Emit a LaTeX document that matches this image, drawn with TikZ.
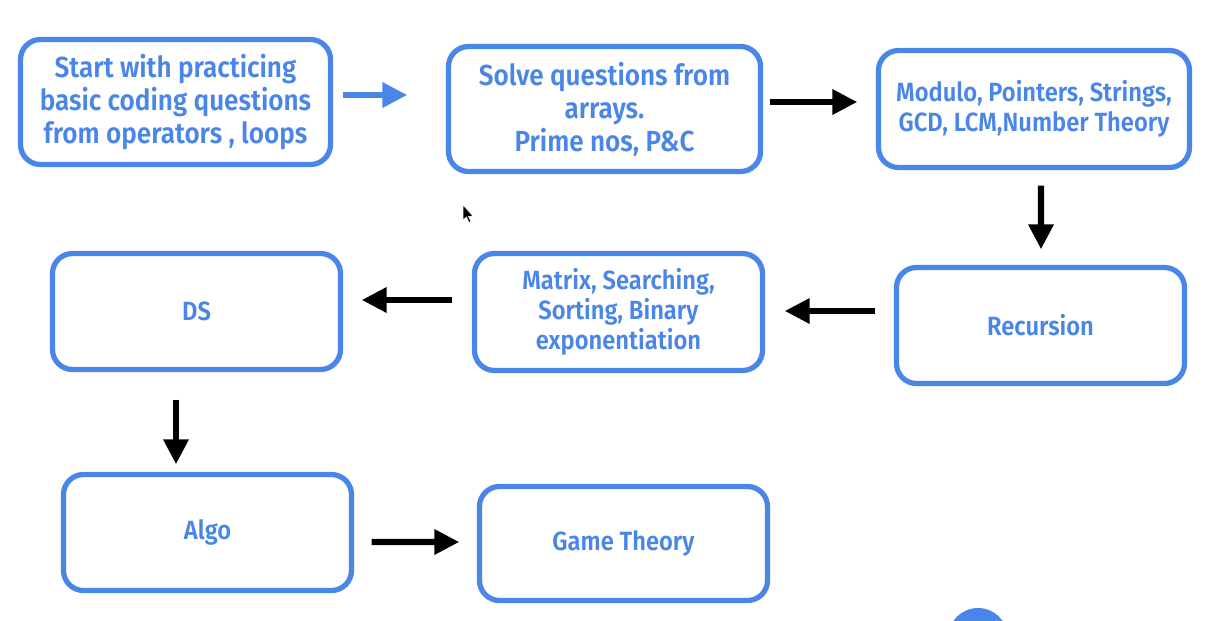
\documentclass[tikz,border=0pt]{standalone}
\usepackage{fontspec}
\setmainfont{Fira Sans}[FakeStretch=0.9, BoldFont={Fira Sans SemiBold}]
\usetikzlibrary{arrows.meta}
\definecolor{boxblue}{HTML}{4A86E8}

\tikzset{
  box/.style={draw=boxblue, line width=3pt, rounded corners=0.4cm,
    text=boxblue, align=center, inner sep=0pt, font=\bfseries},
  bigtxt/.style={font=\fontsize{16.5}{18.8}\selectfont\bfseries},
  smalltxt/.style={font=\fontsize{15}{17}\selectfont\bfseries},
  arr/.style={line width=3.6pt, -{Triangle[length=0.5cm,width=0.48cm]}},
}

\begin{document}
\begin{tikzpicture}

\useasboundingbox (0,0) rectangle (24.28,-12.4);
\clip (0,0) rectangle (24.28,-12.4);

% top row
\node[box,bigtxt,minimum width=6.2cm,minimum height=2.5cm] (start) at (3.51,-2.04)
  {Start with practicing\\basic coding questions\\from operators , loops};
\node[box,bigtxt,minimum width=6.24cm,minimum height=2.5cm] (arrays) at (12.09,-2.18)
  {Solve questions from\\arrays.\\Prime nos, P\&C};
\node[box,smalltxt,minimum width=6.22cm,minimum height=2.34cm] (modulo) at (20.68,-2.18)
  {Modulo, Pointers, Strings,\\GCD, LCM,Number Theory};

% middle row
\node[box,smalltxt,minimum width=5.76cm,minimum height=2.32cm] (recursion) at (20.81,-6.51)
  {Recursion};
\node[box,smalltxt,minimum width=5.76cm,minimum height=2.34cm] (matrix) at (12.37,-6.24)
  {Matrix, Searching,\\Sorting, Binary\\exponentiation};
\node[box,smalltxt,minimum width=5.76cm,minimum height=2.32cm] (ds) at (3.93,-6.23)
  {DS};

% bottom row
\node[box,smalltxt,minimum width=5.76cm,minimum height=2.32cm] (algo) at (4.15,-10.65)
  {Algo};
\node[box,smalltxt,minimum width=5.76cm,minimum height=2.28cm] (game) at (12.47,-10.87)
  {Game Theory};

% arrows
\draw[arr,boxblue,shorten <=0.19cm,shorten >=0.77cm]
  ([yshift=0.14cm]start.east) -- ([yshift=0.28cm]arrays.west);
\draw[arr,shorten <=0.13cm,shorten >=0.37cm]
  ([yshift=0.14cm]arrays.east) -- ([yshift=0.14cm]modulo.west);
\draw[arr,shorten <=0.31cm,shorten >=0.31cm]
  ([xshift=0.14cm]modulo.south) -- ([xshift=0.01cm]recursion.north);
\draw[arr,shorten <=0.37cm,shorten >=0.39cm]
  ([yshift=0.29cm]recursion.west) -- ([yshift=0.02cm]matrix.east);
\draw[arr,shorten <=0.39cm,shorten >=0.37cm]
  ([yshift=0.24cm]matrix.west) -- ([yshift=0.23cm]ds.east);
\draw[arr,shorten <=0.55cm,shorten >=0.15cm]
  ([xshift=-0.41cm]ds.south) -- ([xshift=-0.63cm]algo.north);
\draw[arr,shorten <=0.35cm,shorten >=0.35cm]
  ([yshift=-0.19cm]algo.east) -- ([yshift=0.03cm]game.west);

% pointer and round button
\fill[black,draw=white,line width=0.3pt] (9.26,-4.1) -- (9.26,-4.4) -- (9.33,-4.34)
  -- (9.38,-4.45) -- (9.42,-4.43) -- (9.37,-4.33) -- (9.46,-4.32) -- cycle;
\fill[boxblue] (19.56,-12.76) circle [radius=0.6];

\end{tikzpicture}
\end{document}
